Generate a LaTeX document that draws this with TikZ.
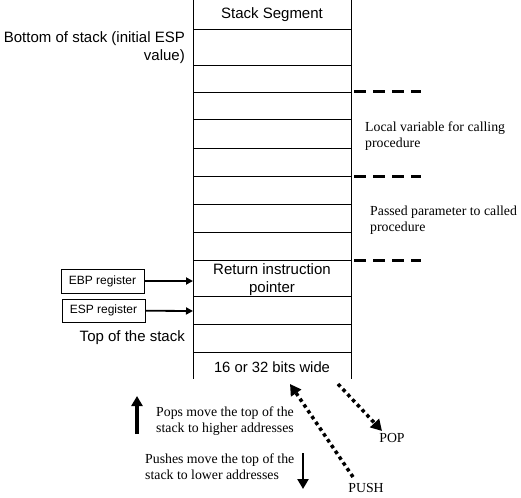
\documentclass[tikz,border=0pt]{standalone}
\usepackage{fontspec}
\setmainfont{Liberation Serif}
\newfontfamily\arialf{Liberation Sans}
\usetikzlibrary{arrows.meta}
\tikzset{
  grid/.style={line width=0.9pt},
  sans/.style={font=\arialf\fontsize{15}{18}\selectfont, inner sep=0pt},
  serif/.style={font=\fontsize{13.8}{16}\selectfont, inner sep=0pt, align=left},
  regbox/.style={draw, line width=0.8pt, minimum width=83pt, minimum height=24pt, inner sep=0pt, font=\arialf\fontsize{12}{14}\selectfont},
  regarrow/.style={line width=1.8pt, -{Triangle[length=7pt,width=7pt]}},
  sep/.style={line width=3pt, dash pattern=on 12pt off 7pt},
  dotarrow/.style={line width=3.5pt, dash pattern=on 3.5pt off 3.5pt, -{Triangle[length=11pt,width=12pt]}},
  dirarrow/.style={line width=3.5pt, -{Triangle[length=10pt,width=11pt]}}
}
\begin{document}
\begin{tikzpicture}[x=1pt,y=-1pt]
\useasboundingbox[fill=white] (0,0) rectangle (521,497);
% stack outline
\coordinate (lt) at (193,0); \coordinate (lb) at (193,379);
\coordinate (rt) at (351,0); \coordinate (rb) at (351,379);
\draw[grid] (lt) -- (lb);
\draw[grid] (rt) -- (rb);
\foreach \y in {29,65,92,119,148,176,204,232,260,296,324,352}
  \draw[grid] (193,\y) -- (351,\y);
% stack texts
\node[sans] (seg) at (272,15) {Stack Segment};
\node[sans, align=center] (ret) at (272,280) {Return instruction\\pointer};
\node[sans, font=\arialf\fontsize{14.8}{17}\selectfont] (wide) at (272,367) {16 or 32 bits wide};
% left labels
\node[sans, align=right, anchor=east] (bottom) at (185,48) {Bottom of stack (initial ESP\\value)};
\node[sans, anchor=east] (top) at (185,338) {Top of the stack};
% registers
\node[regbox] (ebp) at (102.5,281) {EBP register};
\node[regbox, minimum height=23pt] (esp) at (103.5,310.5) {ESP register};
\coordinate (ebpt) at (193,281);
\coordinate (espt) at (193,311);
\draw[regarrow] (ebp) -- (ebpt);
\draw[regarrow] (esp) -- (espt);
% separators
\coordinate (s1a) at (354,92); \coordinate (s1b) at (421,92);
\coordinate (s2a) at (354,176); \coordinate (s2b) at (421,176);
\coordinate (s3a) at (354,260); \coordinate (s3b) at (421,260);
\draw[sep] (s1a) -- (s1b);
\draw[sep] (s2a) -- (s2b);
\draw[sep] (s3a) -- (s3b);
% right labels
\node[serif, anchor=west] (local) at (365,136) {Local variable for calling\\procedure};
\node[serif, anchor=west] (passed) at (370,220) {Passed parameter to called\\procedure};
% bottom part
\node[serif, anchor=west] (pops) at (156,421) {Pops move the top of the\\stack to higher addresses};
\node[serif, anchor=west] (pushes) at (145,467) {Pushes move the top of the\\stack to lower addresses};
\coordinate (upa) at (137,434); \coordinate (upb) at (137,396);
\draw[dirarrow] (upa) -- (upb);
\coordinate (dna) at (303,453); \coordinate (dnb) at (303,489);
\draw[dirarrow, line width=2.8pt] (dna) -- (dnb);
\node[serif] (pop) at (392,438) {POP};
\node[serif] (push) at (366,488) {PUSH};
\coordinate (popa) at (338,384); \coordinate (popb) at (382,431);
\draw[dotarrow] (popa) -- (popb);
\coordinate (pusha) at (353,477); \coordinate (pushb) at (290,384);
\draw[dotarrow] (pusha) -- (pushb);
\end{tikzpicture}
\end{document}
